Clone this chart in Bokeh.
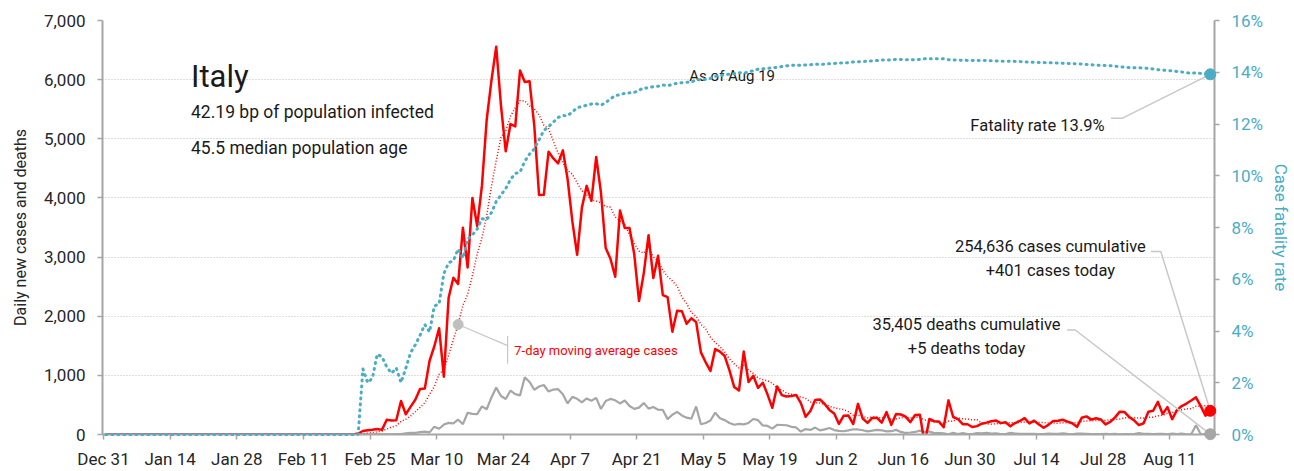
import numpy as np
import pandas as pd
from bokeh.plotting import figure
from bokeh.models import Range1d, LinearAxis, FixedTicker, NumeralTickFormatter, BoxAnnotation
from bokeh.core.properties import value
from bokeh.embed import file_html
from bokeh.resources import INLINE

# ---------------- data ----------------
COUNTRY = "Italy"
CHART_START = "2019-12-31"
CHART_END = "2020-08-19"
EARLY_CASES = {"2020-01-31": 2, "2020-02-07": 1}
SERIES_START = "2020-02-22"

cases = [
    17, 59, 71, 79, 93, 78, 250, 238, 240, 566,
    342, 466, 587, 769, 778, 1247, 1492, 1797, 977, 2313,
    2651, 2547, 3497, 2823, 4000, 3526, 4207, 5322, 5986, 6557,
    5560, 4789, 5249, 5210, 6153, 5959, 5974, 5217, 4050, 4053,
    4782, 4668, 4585, 4805, 4316, 3599, 3039, 3836, 4204, 3951,
    4694, 4092, 3153, 2972, 2667, 3786, 3493, 3491, 3047, 2256,
    2729, 3370, 2646, 3021, 2357, 2324, 1739, 2091, 2086, 1872,
    1965, 1900, 1389, 1221, 1075, 1444, 1401, 1327, 1083, 802,
    744, 1402, 888, 992, 789, 875, 675, 451, 813, 665,
    642, 652, 669, 531, 300, 397, 584, 593, 516, 416,
    355, 178, 318, 321, 177, 518, 270, 197, 280, 283,
    202, 379, 163, 346, 338, 301, 210, 329, 333, -148,
    262, 224, 218, 122, 577, 296, 259, 175, 174, 126,
    142, 182, 201, 223, 235, 192, 208, 138, 193, 229,
    276, 188, 234, 169, 114, 162, 230, 233, 249, 219,
    190, 129, 282, 306, 252, 275, 255, 170, 212, 289,
    386, 379, 295, 239, 159, 190, 384, 402, 552, 347,
    463, 259, 412, 481, 523, 574, 629, 479, 320, 401,
]

deaths = [
    0, 2, 1, 2, 5, 2, 5, 4, 8, 5,
    18, 27, 28, 41, 49, 36, 133, 97, 168, 196,
    189, 250, 175, 368, 349, 345, 475, 427, 627, 793,
    651, 601, 743, 683, 662, 969, 889, 756, 812, 837,
    727, 760, 766, 681, 525, 636, 604, 542, 610, 570,
    619, 431, 566, 602, 578, 525, 575, 482, 433, 454,
    534, 437, 464, 420, 415, 260, 333, 382, 323, 285,
    269, 474, 174, 195, 236, 369, 274, 243, 194, 165,
    179, 172, 195, 262, 242, 153, 145, 99, 162, 161,
    156, 130, 119, 50, 92, 78, 117, 70, 87, 111,
    75, 60, 55, 71, 88, 85, 72, 53, 65, 79,
    71, 53, 56, 78, 44, 26, 34, 43, 66, 47,
    49, 24, 23, 18, 3, 30, 8, 22, 6, 6,
    23, 21, 30, 15, 21, 7, 8, 30, 15, 12,
    12, 9, 13, 7, 6, 17, 11, 13, 20, 11,
    3, 15, 15, 10, 5, 5, 8, 11, 6, 9,
    3, 5, 5, 8, 25, 13, 10, 6, 12, 13,
    3, 15, 6, 15, 3, 4, 155, 4, 7, 5,
]

LEFT_TICKS = [0, 1000, 2000, 3000, 4000, 5000, 6000, 7000]
RIGHT_TICKS = [0, 0.02, 0.04, 0.06, 0.08, 0.10, 0.12, 0.14, 0.16]
TICK_STEP_DAYS = 14
MA_NOTE_DATE = "2020-03-14"

CUM_CASES_TEXT = "254,636 cases cumulative"
TODAY_CASES_TEXT = "+401 cases today"
CUM_DEATHS_TEXT = "35,405 deaths cumulative"
TODAY_DEATHS_TEXT = "+5 deaths today"
FATALITY_TEXT = "Fatality rate 13.9%"
ASOF_TEXT = "As of Aug 19"
SUB1 = "42.19 bp of population infected"
SUB2 = "45.5 median population age"
MA_TEXT = "7-day moving average cases"

# ---------------- series ----------------
start = pd.Timestamp(CHART_START)
dates = pd.date_range(CHART_START, CHART_END, freq="D")
s_cases = pd.Series(0.0, index=dates)
s_deaths = pd.Series(0.0, index=dates)
for d, v in EARLY_CASES.items():
    s_cases.loc[pd.Timestamp(d)] = v
idx = pd.date_range(SERIES_START, periods=len(cases), freq="D")
s_cases.loc[idx] = cases
s_deaths.loc[idx] = deaths

ma7 = s_cases.rolling(7, min_periods=1).mean()
cum_c = s_cases.cumsum().values
cum_d = s_deaths.cumsum().values
cfr = np.where(cum_c > 0, cum_d / np.where(cum_c > 0, cum_c, 1), 0.0)

x = (dates - start).days.values + 0.5  # plotted at mid-day

# ---------------- figure ----------------
FONT = "Roboto"
TEAL = "#4bacc6"
RED = "#ff0000"
GRAY = "#a6a6a6"
AXIS = "#a6a6a6"
TXT = "#1a1a1a"
LEAD = "#c8c8c8"

x_end = pd.Timestamp(CHART_END)
p = figure(width=1294, height=471, output_backend="svg", toolbar_location=None,
           x_range=Range1d(-0.209, 233.39), y_range=Range1d(0, 7000),
           min_border_left=102, min_border_right=74, min_border_top=20,
           min_border_bottom=35)
p.outline_line_color = None
p.border_fill_color = "white"
p.background_fill_color = "white"
p.extra_y_ranges = {"cfr": Range1d(0, 0.16)}

# page header strip
p.add_layout(BoxAnnotation(left=0, right=1294, top=0, bottom=6,
                           left_units="canvas", right_units="canvas",
                           top_units="canvas", bottom_units="canvas",
                           fill_color="#f2f2f2", fill_alpha=1, line_color=None,
                           level="underlay"))

# x axis
tick_days = list(range(0, int((x_end - start).days) - 7, TICK_STEP_DAYS))
xlabels = {}
for t in tick_days:
    d = start + pd.Timedelta(days=t)
    xlabels[t] = f"{d:%b} {d.day}"
xa = p.xaxis[0]
xa.ticker = FixedTicker(ticks=tick_days)
xa.major_label_overrides = xlabels

ya = p.yaxis[0]
ya.ticker = FixedTicker(ticks=LEFT_TICKS)
ya.formatter = NumeralTickFormatter(format="0,0")
ya.axis_label = "Daily new cases and deaths"

ra = LinearAxis(y_range_name="cfr", ticker=FixedTicker(ticks=RIGHT_TICKS),
                formatter=NumeralTickFormatter(format="0%"),
                axis_label="Case fatality rate")
p.add_layout(ra, "right")

for ax in (xa, ya, ra):
    ax.axis_line_color = AXIS
    ax.axis_line_width = 2
    ax.major_tick_line_color = AXIS
    ax.major_tick_line_width = 1.5
    ax.minor_tick_line_color = None
    ax.major_tick_in = 0
    ax.major_tick_out = 5
    ax.major_label_text_font = FONT
    ax.major_label_text_font_size = "17px"
    ax.major_label_text_color = "#262626"
    ax.axis_label_text_font_style = "normal"

xa.major_label_standoff = 9
ya.major_label_standoff = 12
ya.axis_label_text_font = FONT
ya.axis_label_text_font_size = "16px"
ya.axis_label_text_color = "#262626"
ya.axis_label_standoff = 11
ra.major_label_standoff = 12
ra.major_label_text_color = TEAL
ra.axis_label_text_font = FONT
ra.axis_label_text_font_size = "17px"
ra.axis_label_text_color = TEAL
ra.axis_label_standoff = 5

p.xgrid.visible = False
p.ygrid.ticker = FixedTicker(ticks=LEFT_TICKS[1:])
p.ygrid.grid_line_color = "#bdbdbd"
p.ygrid.grid_line_dash = "1 2"
p.ygrid.grid_line_width = 1

# ---------------- glyphs ----------------
p.line(x, s_deaths.values, line_color=GRAY, line_width=2.2)
p.line(x, s_cases.values, line_color=RED, line_width=2.5, line_join="round")
p.line(x, ma7.values, line_color=RED, line_width=1.5, line_dash="1 2")
p.line(x, cfr, y_range_name="cfr", line_color=TEAL, line_width=3,
       line_dash="1 5", line_cap="round", level="overlay")

lx = x[-1]
mi = int((pd.Timestamp(MA_NOTE_DATE) - start).days)


def px_x(px):  # page pixel -> x data (layout helper for annotations)
    return (px - 103) / 4.786


def px_y(py):
    return (436 - py) / 416 * 7000


def px_c(py):
    return (436 - py) / 416 * 0.16


# leader lines
p.line([x[mi], px_x(509.3)], [ma7.values[mi], px_y(346.7)], line_color=LEAD, line_width=1.2)
p.line([px_x(509.3), px_x(509.3)], [px_y(337), px_y(365)], line_color=LEAD, line_width=1.2)
p.line([px_x(1116), px_x(1127), lx], [px_c(118.3), px_c(118.3), cfr[-1]],
       y_range_name="cfr", line_color=LEAD, line_width=1.5)
p.line([px_x(1156), px_x(1166), lx], [px_y(252), px_y(252), s_cases.values[-1]],
       line_color=LEAD, line_width=1.5)
p.line([px_x(1071.7), px_x(1080), lx], [px_y(331), px_y(331), s_deaths.values[-1]],
       line_color=LEAD, line_width=1.5)

# markers
p.scatter([x[mi]], [ma7.values[mi]], size=10, color="#bfbfbf")
p.scatter([lx], [s_deaths.values[-1]], size=11, color=GRAY, level="overlay")
p.scatter([lx], [s_cases.values[-1]], size=11, color=RED, level="overlay")
p.scatter([lx], [cfr[-1]], y_range_name="cfr", size=11, color=TEAL, level="overlay")


def txt(xv, yv, s, size, color=TXT, align="left", baseline="alphabetic", font=FONT):
    p.text([xv], [yv], text=[s], text_font=value(font), text_font_size=size,
           text_color=color, text_align=align, text_baseline=baseline)


txt(px_x(191), px_y(76.7), COUNTRY, "31px")
txt(px_x(191), px_y(112.3), SUB1, "17.5px")
txt(px_x(191), px_y(148.3), SUB2, "17.5px")
txt(px_x(692), px_y(76), ASOF_TEXT, "15px")
txt(px_x(1109.5), px_y(126), FATALITY_TEXT, "16.5px", align="right")
txt(px_x(1055), px_y(246.7), CUM_CASES_TEXT, "16.5px", align="center")
txt(px_x(1055), px_y(271.7), TODAY_CASES_TEXT, "16.5px", align="center")
txt(px_x(970.7), px_y(325), CUM_DEATHS_TEXT, "16.5px", align="center")
txt(px_x(970.7), px_y(350), TODAY_DEATHS_TEXT, "16.5px", align="center")
txt(px_x(516), px_y(352), MA_TEXT, "13px", color=RED)

open("out.html", "w").write(file_html(p, INLINE))
